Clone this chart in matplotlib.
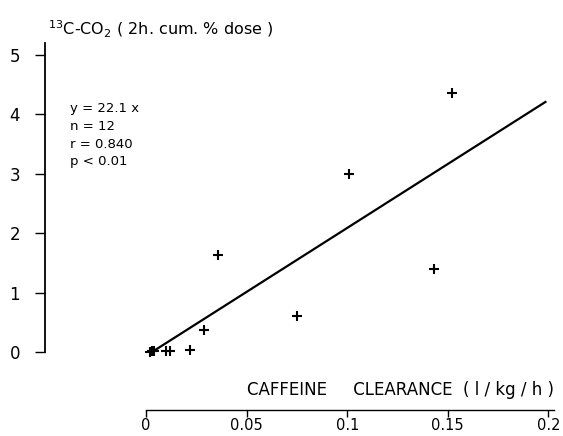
import numpy as np
import matplotlib
matplotlib.use("Agg")
import matplotlib.pyplot as plt

# data
clearance = [0.152, 0.101, 0.036, 0.143, 0.075, 0.029, 0.022, 0.010, 0.012, 0.002, 0.003, 0.004]
co2_dose = [4.36, 3.00, 1.63, 1.40, 0.60, 0.37, 0.03, 0.01, 0.02, 0.0, 0.02, 0.01]
fit_x = [0.003, 0.199]
fit_y = [0.0, 4.22]
xticks = [0, 0.05, 0.1, 0.15, 0.2]
xticklabels = ["0", "0.05", "0.1", "0.15", "0.2"]
yticks = [0, 1, 2, 3, 4, 5]
stats = ["y = 22.1 x", "n = 12", "r = 0.840", "p < 0.01"]

fig = plt.figure(figsize=(5.63, 4.36), dpi=100)
# axes box: left edge = y spine (px 45), bottom edge = x spine (px 410)
ax = fig.add_axes([45 / 563, (436 - 410) / 436, (556 - 45) / 563, (410 - 42) / 436])

ax.set_xlim((45 - 146) / 2012, (556 - 146) / 2012)
ax.set_ylim((352 - 410) / 59.4, (352 - 42) / 59.4)

ax.plot(fit_x, fit_y, color="black", linewidth=1.6, solid_capstyle="butt")
ax.plot(clearance, co2_dose, linestyle="none", marker="+", markersize=7.5,
        markeredgewidth=1.5, color="black")

for side in ["top", "right"]:
    ax.spines[side].set_visible(False)
ax.spines["left"].set_bounds(0, 5.2)
ax.spines["bottom"].set_bounds(0, 0.203)
ax.spines["left"].set_linewidth(1.3)
ax.spines["bottom"].set_linewidth(1.0)

ax.set_yticks(yticks)
ax.set_yticklabels([str(t) for t in yticks], fontsize=12)
ax.set_xticks(xticks)
ax.set_xticklabels(xticklabels, fontsize=10.5)
ax.tick_params(axis="y", direction="out", length=7, width=1, pad=11)
ax.tick_params(axis="x", direction="out", length=5, width=1, pad=0.5)

fig.text(48 / 563, 1 - 35 / 436, r"$^{13}$C-CO$_2$ ( 2h. cum. % dose )", fontsize=11.5,
         ha="left", va="baseline")
fig.text(247 / 563, 1 - 390 / 436, "CAFFEINE     CLEARANCE  ( l / kg / h )", fontsize=12,
         ha="left", va="center")

for i, s in enumerate(stats):
    fig.text(70 / 563, 1 - (108 + 18 * i) / 436, s, fontsize=9.5, ha="left", va="center")

fig.savefig("out.png", dpi=100)
